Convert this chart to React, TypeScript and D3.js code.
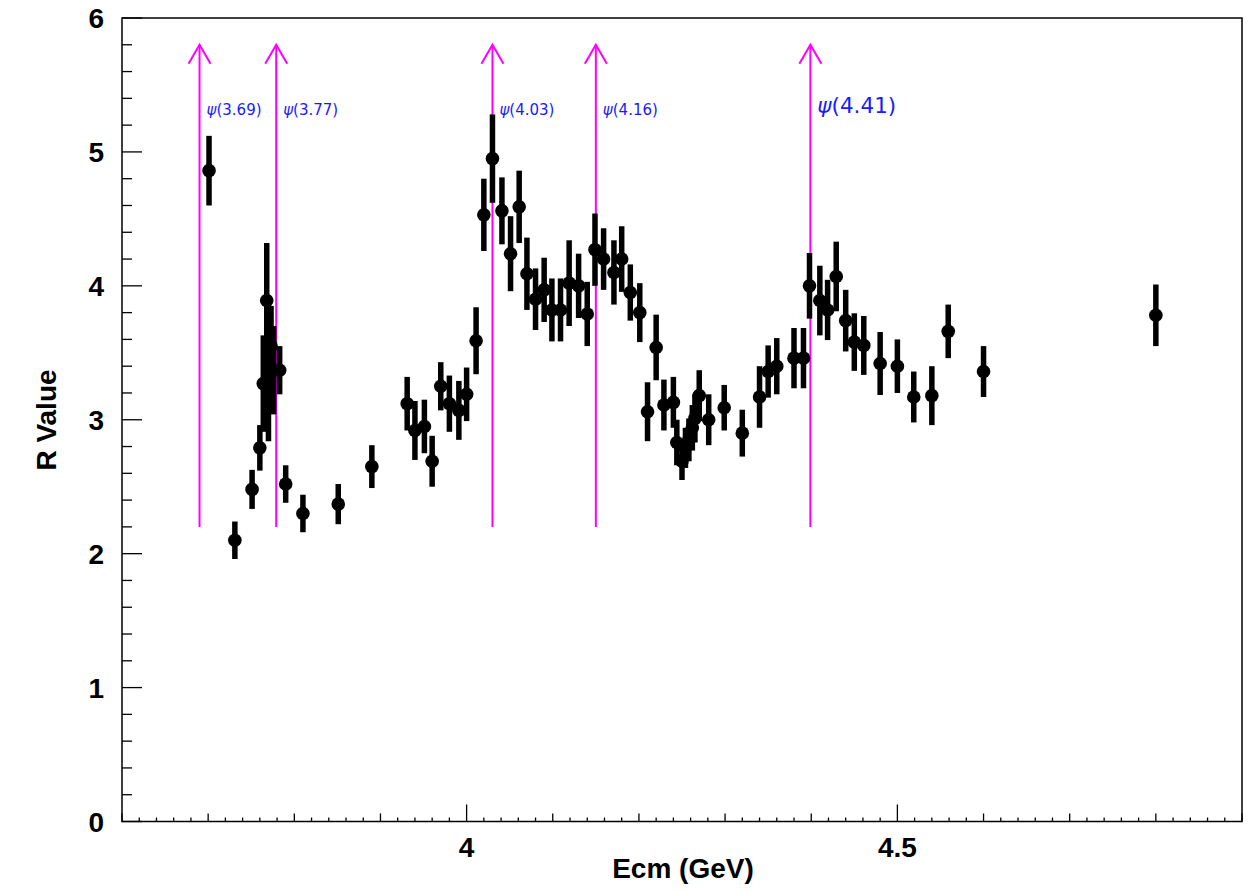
import React from "react";
import * as d3 from "d3";

const energies = [
  3.701, 3.731, 3.751, 3.760, 3.764, 3.768, 3.770, 3.773, 3.776, 3.783, 3.790, 3.810,
  3.851, 3.890, 3.931, 3.940, 3.951, 3.960, 3.970, 3.980, 3.991, 4.000, 4.011,
  4.020, 4.030, 4.041, 4.051, 4.061, 4.070, 4.080, 4.090, 4.099, 4.109, 4.119,
  4.130, 4.140, 4.149, 4.159, 4.171, 4.180, 4.190, 4.201, 4.210, 4.220, 4.229,
  4.240, 4.244, 4.250, 4.254, 4.258, 4.262, 4.265, 4.270, 4.281, 4.299, 4.320,
  4.340, 4.350, 4.360, 4.380, 4.391, 4.398, 4.410, 4.419, 4.429, 4.440, 4.450,
  4.461, 4.480, 4.500, 4.519, 4.540, 4.559, 4.600, 4.800,
];
const rValues = [
  4.86, 2.10, 2.48, 2.79, 3.27, 3.89, 3.33, 3.55, 3.37, 3.37, 2.52, 2.30,
  2.37, 2.65, 3.12, 2.92, 2.95, 2.69, 3.25, 3.12, 3.07, 3.19, 3.59,
  4.53, 4.95, 4.56, 4.24, 4.59, 4.09, 3.90, 3.97, 3.82, 3.82, 4.02,
  4.00, 3.79, 4.27, 4.20, 4.10, 4.20, 3.95, 3.80, 3.06, 3.54, 3.11,
  3.13, 2.83, 2.69, 2.79, 2.85, 2.94, 3.01, 3.18, 3.00, 3.09, 2.90,
  3.17, 3.36, 3.40, 3.46, 3.46, 4.00, 3.89, 3.82, 4.07, 3.74, 3.58,
  3.555, 3.42, 3.40, 3.17, 3.18, 3.66, 3.36, 3.78,
];
const rErrors = [
  0.26, 0.14, 0.146, 0.17, 0.36, 0.43, 0.49, 0.30, 0.33, 0.18, 0.14, 0.14,
  0.15, 0.16, 0.20, 0.22, 0.20, 0.19, 0.18, 0.21, 0.22, 0.20, 0.25,
  0.27, 0.33, 0.25, 0.28, 0.27, 0.27, 0.23, 0.24, 0.235, 0.235, 0.32,
  0.24, 0.24, 0.27, 0.23, 0.24, 0.245, 0.21, 0.22, 0.22, 0.245, 0.19,
  0.19, 0.17, 0.14, 0.15, 0.16, 0.17, 0.18, 0.19, 0.19, 0.17, 0.175,
  0.23, 0.195, 0.21, 0.225, 0.225, 0.245, 0.26, 0.225, 0.26, 0.23, 0.215,
  0.22, 0.235, 0.20, 0.19, 0.22, 0.20, 0.19, 0.23,
];

const arrowPositions = [3.69, 3.779, 4.030, 4.150, 4.399];
const arrowLabels = ["3.69", "3.77", "4.03", "4.16", "4.41"];
const arrowLabelSizes = [15, 15, 15, 15, 21.5];
const arrowBottom = 2.2;
const arrowTop = 5.8;

const xMajorTicks = [4, 4.5];
const yMajorTicks = [0, 1, 2, 3, 4, 5, 6];

const W = 1248;
const H = 893;
const left = 122;
const right = 1242;
const top = 18;
const bottom = 821.5;

export default function App() {
  const x = d3.scaleLinear().domain([3.6, 4.9]).range([left, right]);
  const y = d3.scaleLinear().domain([0, 6]).range([bottom, top]);

  const xMinor = d3.range(3.6, 4.9001, 0.02).map((v) => +v.toFixed(2));
  const yMinor = d3.range(0, 6.0001, 0.2).map((v) => +v.toFixed(1));

  const font = "'Liberation Sans', Arial, sans-serif";

  return (
    <svg
      width={W}
      height={H}
      style={{ position: "absolute", left: 0, top: 0, background: "#fff" }}
    >
      <rect x={0} y={0} width={W} height={H} fill="#fff" />
      {/* frame */}
      <rect
        x={left}
        y={top}
        width={right - left}
        height={bottom - top}
        fill="none"
        stroke="#000"
        strokeWidth={1.5}
      />
      {/* x ticks */}
      {xMinor.map((v, i) => {
        const isMajor = Math.abs(v * 2 - Math.round(v * 2)) < 1e-6;
        const isMed = Math.abs(v * 10 - Math.round(v * 10)) < 1e-6;
        const len = isMajor ? 17 : isMed ? 8 : 4;
        return (
          <line
            key={"xt" + i}
            x1={x(v)}
            x2={x(v)}
            y1={bottom}
            y2={bottom - len}
            stroke="#000"
            strokeWidth={1.3}
          />
        );
      })}
      {xMajorTicks.map((v) => (
        <text
          key={"xl" + v}
          x={x(v)}
          y={857}
          textAnchor="middle"
          fontFamily={font}
          fontWeight="bold"
          fontSize={28}
        >
          {v}
        </text>
      ))}
      {/* y ticks */}
      {yMinor.map((v, i) => {
        const isMajor = Math.abs(v - Math.round(v)) < 1e-6;
        const len = isMajor ? 20 : 10;
        return (
          <line
            key={"yt" + i}
            x1={left}
            x2={left + len}
            y1={y(v)}
            y2={y(v)}
            stroke="#000"
            strokeWidth={1.3}
          />
        );
      })}
      {yMajorTicks.map((v) => (
        <text
          key={"yl" + v}
          x={104}
          y={y(v) + 10}
          textAnchor="end"
          fontFamily={font}
          fontWeight="bold"
          fontSize={28}
        >
          {v}
        </text>
      ))}
      <text
        x={683}
        y={878}
        textAnchor="middle"
        fontFamily={font}
        fontWeight="bold"
        fontSize={28}
      >
        Ecm (GeV)
      </text>
      <text
        transform={`translate(56, 420) rotate(-90)`}
        textAnchor="middle"
        fontFamily={font}
        fontWeight="bold"
        fontSize={28}
      >
        R Value
      </text>

      {/* arrows */}
      {arrowPositions.map((e, i) => {
        const ax = x(e);
        const ty = y(arrowTop);
        return (
          <g key={"ar" + i} stroke="#ff00ff" strokeWidth={2} fill="none">
            <line x1={ax} x2={ax} y1={y(arrowBottom)} y2={ty} />
            <polyline
              points={`${ax - 11},${ty + 19} ${ax},${ty} ${ax + 11},${ty + 19}`}
            />
          </g>
        );
      })}
      {arrowPositions.map((e, i) => (
        <text
          key={"al" + i}
          x={x(e) + 7}
          y={arrowLabelSizes[i] > 18 ? 113 : 115}
          fontFamily="'DejaVu Sans', sans-serif"
          fontSize={arrowLabelSizes[i]}
          fill="#1a1aff"
        >
          <tspan fontStyle="italic">ψ</tspan>
          {`(${arrowLabels[i]})`}
        </text>
      ))}

      {/* data */}
      {energies.map((e, i) => (
        <line
          key={"eb" + i}
          x1={x(e)}
          x2={x(e)}
          y1={y(rValues[i] - rErrors[i])}
          y2={y(rValues[i] + rErrors[i])}
          stroke="#000"
          strokeWidth={5.5}
        />
      ))}
      {energies.map((e, i) => (
        <circle key={"pt" + i} cx={x(e)} cy={y(rValues[i])} r={6.8} fill="#000" />
      ))}
    </svg>
  );
}
